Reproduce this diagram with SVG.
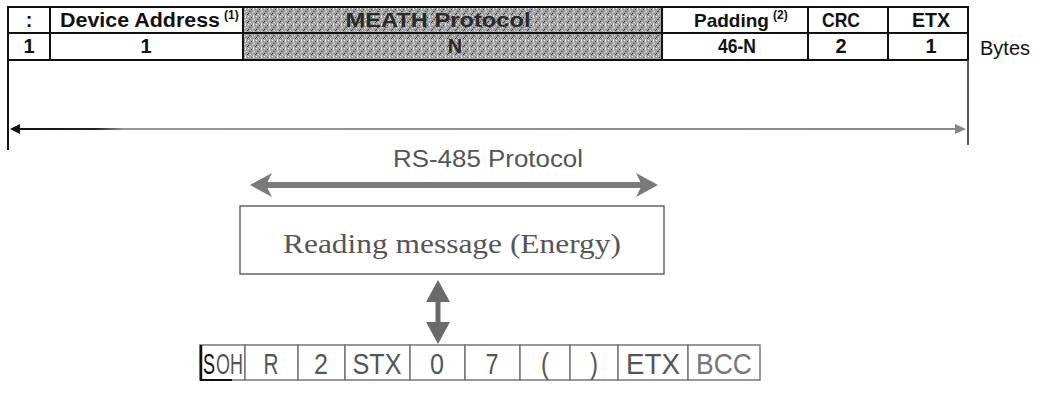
<svg xmlns="http://www.w3.org/2000/svg" width="1037" height="403" viewBox="0 0 1037 403">
<defs>
<style>
.hdr{font-family:"Liberation Sans",Arial,sans-serif;font-weight:bold;font-size:20px;fill:#111;text-anchor:middle}
.sup{font-family:"Liberation Sans",Arial,sans-serif;font-weight:bold;font-size:12px;fill:#111}
.cell{font-family:"Liberation Sans",Arial,sans-serif;font-size:29px;fill:#555;text-anchor:middle}
.tb{fill:none;stroke:#111;stroke-width:2}
.cb{fill:#fff;stroke:#777;stroke-width:1.5}
</style>
<pattern id="grain" width="8" height="8" patternUnits="userSpaceOnUse">
<rect width="8" height="8" fill="#a2a2a2"/>
<rect x="0" y="0" width="1" height="1" fill="#fff"/>
<rect x="3" y="1" width="1" height="1" fill="#444"/>
<rect x="5" y="0" width="1" height="2" fill="#eee"/>
<rect x="1" y="3" width="2" height="1" fill="#555"/>
<rect x="6" y="3" width="1" height="1" fill="#fff"/>
<rect x="4" y="4" width="1" height="1" fill="#dcdcdc"/>
<rect x="0" y="5" width="1" height="1" fill="#333"/>
<rect x="2" y="6" width="1" height="1" fill="#fff"/>
<rect x="7" y="6" width="1" height="1" fill="#444"/>
<rect x="5" y="7" width="1" height="1" fill="#e8e8e8"/>
</pattern>
<linearGradient id="thin" gradientUnits="userSpaceOnUse" x1="10" y1="0" x2="966" y2="0">
<stop offset="0" stop-color="#111"/>
<stop offset="0.09" stop-color="#222"/>
<stop offset="0.12" stop-color="#999"/>
<stop offset="1" stop-color="#888"/>
</linearGradient>
</defs>
<rect width="1037" height="403" fill="#fff"/>

<g id="frame-table">
<rect x="243" y="7" width="419" height="53" fill="url(#grain)"/>
<rect class="tb" x="8" y="7" width="960" height="53"/>
<line class="tb" x1="8" y1="33" x2="968" y2="33"/>
<line class="tb" x1="50" y1="7" x2="50" y2="60"/>
<line class="tb" x1="243" y1="7" x2="243" y2="60"/>
<line class="tb" x1="662" y1="7" x2="662" y2="60"/>
<line class="tb" x1="808" y1="7" x2="808" y2="60"/>
<line class="tb" x1="888" y1="7" x2="888" y2="60"/>
<text class="hdr" x="29" y="27">:</text>
<text class="hdr" x="60" y="27" textLength="160" lengthAdjust="spacingAndGlyphs" style="text-anchor:start">Device Address</text>
<text class="sup" x="224" y="19">(1)</text>
<text class="hdr" x="438" y="27" style="fill:#2a2a2a" textLength="185" lengthAdjust="spacingAndGlyphs">MEATH Protocol</text>
<text class="hdr" x="694" y="27" style="text-anchor:start;font-size:19px">Padding</text>
<text class="sup" x="773" y="19">(2)</text>
<text class="hdr" x="841" y="27" textLength="38" lengthAdjust="spacingAndGlyphs">CRC</text>
<text class="hdr" x="931" y="27" textLength="38" lengthAdjust="spacingAndGlyphs">ETX</text>
<text class="hdr" x="29" y="53">1</text>
<text class="hdr" x="146" y="53">1</text>
<text class="hdr" x="455" y="53" style="fill:#2a2a2a">N</text>
<text class="hdr" x="737" y="53" textLength="38" lengthAdjust="spacingAndGlyphs">46-N</text>
<text class="hdr" x="841" y="53">2</text>
<text class="hdr" x="931" y="53">1</text>
<text x="980" y="55" textLength="50" lengthAdjust="spacingAndGlyphs" style="font-family:'Liberation Sans',Arial,sans-serif;font-size:21px;fill:#111">Bytes</text>
</g>

<g id="rs485">
<line x1="8" y1="60" x2="8" y2="150" stroke="#111" stroke-width="2"/>
<line x1="968" y1="60" x2="968" y2="145" stroke="#555" stroke-width="2"/>
<line x1="16" y1="129" x2="958" y2="129" stroke="url(#thin)" stroke-width="2"/>
<polygon points="10,129 20,124 20,134" fill="#111"/>
<polygon points="966,129 955,124 955,134" fill="#888"/>
<text x="488" y="167" textLength="190" lengthAdjust="spacingAndGlyphs" style="font-family:'Liberation Sans',Arial,sans-serif;font-size:23px;fill:#555;text-anchor:middle">RS-485 Protocol</text>
</g>

<g id="reading">
<line x1="266" y1="185" x2="642" y2="185" stroke="#7a7a7a" stroke-width="6"/>
<polygon points="250,185 272,173 266,185 272,197" fill="#7a7a7a"/>
<polygon points="658,185 636,173 642,185 636,197" fill="#7a7a7a"/>
<rect x="240" y="206" width="424" height="68" fill="#fff" stroke="#666" stroke-width="1.5"/>
<text x="452" y="253" textLength="338" lengthAdjust="spacingAndGlyphs" style="font-family:'Liberation Serif',serif;font-size:27px;fill:#555;text-anchor:middle">Reading message (Energy)</text>
<line x1="438" y1="296" x2="438" y2="328" stroke="#6a6a6a" stroke-width="5"/>
<polygon points="438,280 426,302 450,302" fill="#6a6a6a"/>
<polygon points="438,344 426,322 450,322" fill="#6a6a6a"/>
</g>

<g id="message">
<rect class="cb" x="200" y="345" width="45" height="35"/>
<rect class="cb" x="245" y="345" width="53" height="35"/>
<rect class="cb" x="298" y="345" width="47" height="35"/>
<rect class="cb" x="345" y="345" width="65" height="35"/>
<rect class="cb" x="410" y="345" width="55" height="35"/>
<rect class="cb" x="465" y="345" width="55" height="35"/>
<rect class="cb" x="520" y="345" width="50" height="35"/>
<rect class="cb" x="570" y="345" width="48" height="35"/>
<rect class="cb" x="618" y="345" width="70" height="35"/>
<rect class="cb" x="688" y="345" width="72" height="35"/>
<line x1="201" y1="345" x2="201" y2="380" stroke="#111" stroke-width="2.5"/>
<line x1="200" y1="380" x2="232" y2="380" stroke="#111" stroke-width="2"/>
<text class="cell" transform="translate(203,374) scale(0.62,1)" style="fill:#111;text-anchor:start">S</text>
<text class="cell" transform="translate(216,374) scale(0.62,1)" style="text-anchor:start">OH</text>
<text class="cell" x="271" y="374" textLength="15" lengthAdjust="spacingAndGlyphs">R</text>
<text class="cell" x="321" y="374" textLength="14" lengthAdjust="spacingAndGlyphs">2</text>
<text class="cell" x="377" y="374" textLength="49" lengthAdjust="spacingAndGlyphs">STX</text>
<text class="cell" x="437" y="374" textLength="14" lengthAdjust="spacingAndGlyphs">0</text>
<text class="cell" x="492" y="374" textLength="13" lengthAdjust="spacingAndGlyphs">7</text>
<text class="cell" x="545" y="374" textLength="8" lengthAdjust="spacingAndGlyphs">(</text>
<text class="cell" x="594" y="374" textLength="8" lengthAdjust="spacingAndGlyphs">)</text>
<text class="cell" x="653" y="374" textLength="54" lengthAdjust="spacingAndGlyphs">ETX</text>
<text class="cell" x="724" y="374" textLength="56" lengthAdjust="spacingAndGlyphs" style="fill:#777">BCC</text>
</g>
</svg>
